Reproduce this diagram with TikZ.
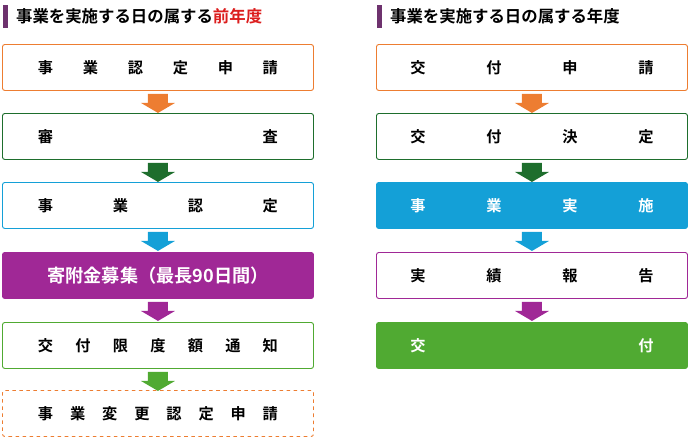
\documentclass[tikz,border=0pt]{standalone}
\usepackage{fontspec}
\newfontfamily\jp{Noto Sans CJK JP}[BoldFont={* Bold}]
\usetikzlibrary{positioning}
\definecolor{corange}{RGB}{237,125,49}
\definecolor{cdgreen}{RGB}{30,110,45}
\definecolor{cblue}{RGB}{20,160,215}
\definecolor{cpurple}{RGB}{160,40,150}
\definecolor{cgreen}{RGB}{80,170,50}
\definecolor{cbar}{RGB}{110,50,110}
\definecolor{cred}{RGB}{220,30,30}
\newcommand{\spreadtext}[2]{\makebox[#1][s]{#2}}

\begin{document}
\begin{tikzpicture}[x=0.03cm,y=-0.03cm,
  stepbox/.style={draw=#1,thick,rounded corners=2pt,minimum width=9.33cm,minimum height=1.38cm,
    font=\jp\bfseries\fontsize{13}{15}\selectfont,anchor=north west,inner sep=0pt},
  filledbox/.style={stepbox=#1,fill=#1,text=white},
  headline/.style={anchor=west,font=\jp\bfseries\fontsize{14}{16}\selectfont},
  blockarrow/.style={fill=#1}]
  \useasboundingbox (0,0) rectangle (690,444);
  \fill[cbar] (3,5) rectangle (8,28);
  \node[headline] at (12,16) {事業を実施する日の属する\textcolor{cred}{前年度}};
  \fill[cbar] (377,5) rectangle (382,28);
  \node[headline] at (386,16) {事業を実施する日の属する年度};

  % left column
  \node[stepbox=corange] (L1) at (2,44) {\spreadtext{7.2cm}{事\hfill 業\hfill 認\hfill 定\hfill 申\hfill 請}};
  \node[stepbox=cdgreen] (L2) at (2,113) {\spreadtext{7.2cm}{審\hfill 査}};
  \node[stepbox=cblue] (L3) at (2,182) {\spreadtext{7.2cm}{事\hfill 業\hfill 認\hfill 定}};
  \node[filledbox=cpurple,font=\jp\bfseries\fontsize{15.5}{18}\selectfont] (L4) at (2,252) {寄附金募集（最長90日間）};
  \node[stepbox=cgreen] (L5) at (2,322) {\spreadtext{7.2cm}{交\hfill 付\hfill 限\hfill 度\hfill 額\hfill 通\hfill 知}};
  \node[stepbox=corange,dashed] (L6) at (2,390) {\spreadtext{7.2cm}{事\hfill 業\hfill 変\hfill 更\hfill 認\hfill 定\hfill 申\hfill 請}};

  % right column
  \node[stepbox=corange] (R1) at (376,44) {\spreadtext{7.3cm}{交\hfill 付\hfill 申\hfill 請}};
  \node[stepbox=cdgreen] (R2) at (376,113) {\spreadtext{7.3cm}{交\hfill 付\hfill 決\hfill 定}};
  \node[filledbox=cblue] (R3) at (376,182) {\spreadtext{7.3cm}{事\hfill 業\hfill 実\hfill 施}};
  \node[stepbox=cpurple] (R4) at (376,252) {\spreadtext{7.3cm}{実\hfill 績\hfill 報\hfill 告}};
  \node[filledbox=cgreen] (R5) at (376,322) {\spreadtext{7.3cm}{交\hfill 付}};

  % block arrows
  \foreach \a/\c in {L1/corange,L2/cdgreen,L3/cblue,L4/cpurple,L5/cgreen,
                     R1/corange,R2/cdgreen,R3/cblue,R4/cpurple}
    \fill[blockarrow=\c] (\a.south) ++(-10,3) -- ++(20,0) -- ++(0,9) -- ++(7,0)
      -- ++(-17,10) -- ++(-17,-10) -- ++(7,0) -- cycle;
\end{tikzpicture}
\end{document}
